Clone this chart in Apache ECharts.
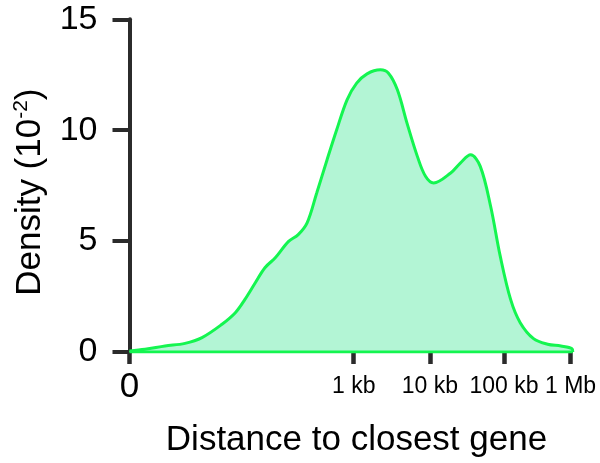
<!DOCTYPE html>
<html lang="en">
<head>
  <meta charset="UTF-8">
  <title>Distance to closest gene</title>
  <script src="https://cdn.jsdelivr.net/npm/echarts@6/dist/echarts.min.js"></script>
  <style type="text/css">
    html, body { margin: 0; padding: 0; background: #fff; }
    #main { width: 600px; height: 463px; }
  </style>
</head>
<body>
  <div id="main"></div>

  <script type="text/javascript">
    // x is in log10-like units of distance
    var distPos = [0, 0.21, 0.48, 0.75, 0.98, 1.25, 1.43, 1.56, 1.70, 1.83, 1.97, 2.15, 2.28, 2.40,
                   2.53, 2.67, 2.80, 2.94, 3.07, 3.21, 3.39, 3.50, 3.62, 3.75, 3.89, 4.00, 4.11,
                   4.34, 4.47, 4.61, 4.74, 4.88, 5.01, 5.15, 5.28, 5.46, 5.65, 5.83, 5.98, 5.99];
    var density = [0.05, 0.12, 0.27, 0.39, 0.65, 1.25, 1.77, 2.37, 3.12, 3.80, 4.25, 4.99, 5.29, 5.82,
                   7.17, 8.67, 10.02, 11.37, 12.12, 12.54, 12.72, 12.57, 11.82, 10.32, 8.82, 7.92, 7.62,
                   8.07, 8.52, 8.89, 8.37, 6.57, 4.32, 2.37, 1.32, 0.60, 0.35, 0.27, 0.15, 0];

    var xTickPos = [0, 3.03, 4.06, 5.06, 5.96];
    var xTickLabels = ['0', '1 kb', '10 kb', '100 kb', '1 Mb'];

    var curve = [];
    for (var i = 0; i < distPos.length; i++) {
      curve.push([distPos[i], density[i]]);
    }

    var axisColor = '#2b2b2b';
    var green = '#14f550';

    var myChart = echarts.init(document.getElementById('main'));

    var option = {
      animation: false,
      grid: { left: 129.5, right: 26.5, top: 19.3, bottom: 110.3 },
      xAxis: {
        type: 'value',
        min: 0,
        max: 6,
        axisLine: { show: false },
        splitLine: { show: false },
        axisTick: {
          show: true,
          customValues: xTickPos,
          length: 12,
          lineStyle: { color: axisColor, width: 4.5 }
        },
        axisLabel: {
          customValues: xTickPos,
          margin: 17,
          formatter: function (v) {
            for (var k = 0; k < xTickPos.length; k++) {
              if (Math.abs(xTickPos[k] - v) < 1e-6) {
                return k === 0 ? '{big|' + xTickLabels[k] + '}' : '{small|' + xTickLabels[k] + '}';
              }
            }
            return '';
          },
          rich: {
            big: { fontSize: 35, lineHeight: 36, color: '#000', fontFamily: 'Liberation Sans' },
            small: { fontSize: 23, lineHeight: 36, color: '#000', fontFamily: 'Liberation Sans' }
          }
        },
        name: 'Distance to closest gene',
        nameLocation: 'middle',
        nameGap: 71,
        nameTextStyle: {
          fontSize: 35,
          color: '#000',
          fontFamily: 'Liberation Sans',
          padding: [0, 0, 0, 10]
        }
      },
      yAxis: {
        type: 'value',
        min: 0,
        max: 15,
        interval: 5,
        splitLine: { show: false },
        axisLine: { show: true, lineStyle: { color: axisColor, width: 4 } },
        axisTick: { show: true, length: 17, lineStyle: { color: axisColor, width: 4 } },
        axisLabel: {
          margin: 32,
          fontSize: 34,
          color: '#000',
          fontFamily: 'Liberation Sans'
        },
        name: '{a|Density (10}{s|-2}{a|)}',
        nameLocation: 'middle',
        nameGap: 79,
        nameTextStyle: {
          padding: [0, 13, 0, 0],
          rich: {
            a: { fontSize: 35, lineHeight: 40, color: '#000', fontFamily: 'Liberation Sans' },
            s: { fontSize: 21, lineHeight: 20, verticalAlign: 'top', color: '#000', fontFamily: 'Liberation Sans' }
          }
        }
      },
      series: [
        {
          type: 'line',
          data: curve,
          smooth: 0.35,
          showSymbol: false,
          lineStyle: { color: green, width: 3 },
          areaStyle: { color: '#b3f5d5', opacity: 1 },
          z: 2
        },
        {
          type: 'line',
          data: [[0, 0], [5.99, 0]],
          showSymbol: false,
          lineStyle: { color: green, width: 3 },
          z: 3
        }
      ]
    };

    myChart.setOption(option);
  </script>
</body>
</html>
